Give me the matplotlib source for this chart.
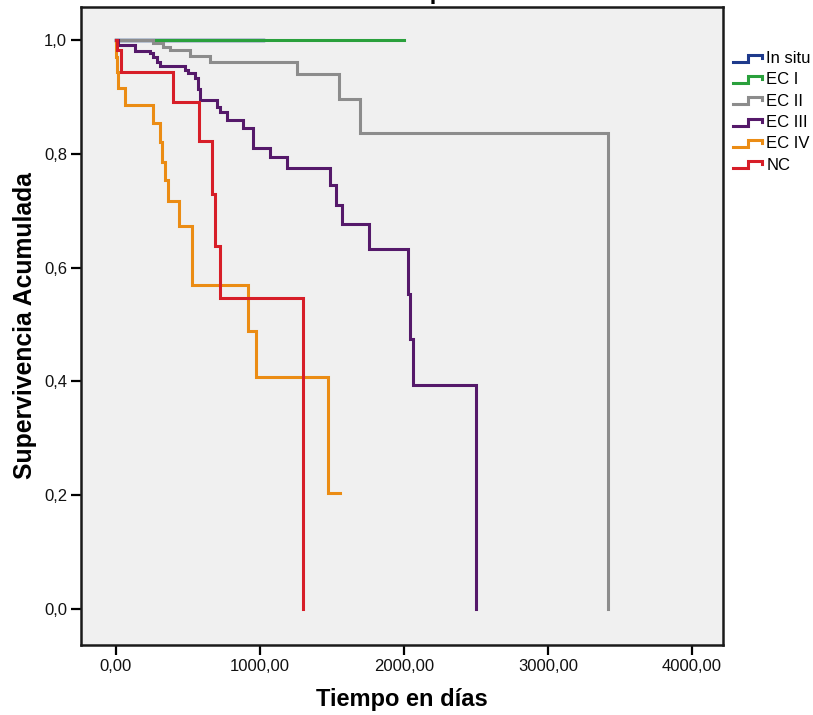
import matplotlib
matplotlib.use("Agg")
import matplotlib.pyplot as plt
from matplotlib import font_manager
from matplotlib.legend_handler import HandlerBase
from matplotlib.lines import Line2D
from matplotlib.ticker import FixedLocator, FuncFormatter

# ---- data: Kaplan-Meier step curves per stage (time in days, cumulative survival)
groups = ["In situ", "EC I", "EC II", "EC III", "EC IV", "NC"]
colors = ["#1E3A8C", "#2AA03C", "#8C8C8C", "#55196A", "#EB8C14", "#D71E28"]

insitu_t = [0, 1021]
insitu_s = [1.0, 1.0]

eci_t = [0, 2000]
eci_s = [1.0, 1.0]

ecii_t = [0, 257, 326, 375, 514, 653, 1257, 1549, 1694, 3417]
ecii_s = [1.0, 0.994, 0.988, 0.982, 0.972, 0.961, 0.941, 0.896, 0.837, 0.0]

eciii_t = [0, 14, 132, 236, 257, 285, 306, 479, 500, 549, 569, 583, 701, 722,
           771, 882, 951, 1069, 1188, 1486, 1528, 1569, 1757, 2028, 2042, 2063, 2500]
eciii_s = [1.0, 0.991, 0.981, 0.977, 0.970, 0.961, 0.954, 0.947, 0.942, 0.933,
           0.914, 0.895, 0.882, 0.873, 0.859, 0.845, 0.810, 0.794, 0.775, 0.745,
           0.710, 0.677, 0.633, 0.554, 0.475, 0.394, 0.0]

eciv_t = [0, 3, 10, 16, 63, 257, 306, 316, 340, 361, 438, 528, 917, 972, 1472, 1556]
eciv_s = [1.0, 0.971, 0.943, 0.916, 0.886, 0.854, 0.821, 0.786, 0.754, 0.717,
          0.673, 0.569, 0.489, 0.408, 0.204, 0.204]

nc_t = [0, 7, 35, 396, 576, 667, 688, 722, 1299]
nc_s = [1.0, 0.982, 0.943, 0.891, 0.822, 0.729, 0.638, 0.547, 0.0]

curves = [(insitu_t, insitu_s), (eci_t, eci_s), (ecii_t, ecii_s),
          (eciii_t, eciii_s), (eciv_t, eciv_s), (nc_t, nc_s)]

x_ticks = [0, 1000, 2000, 3000, 4000]
y_ticks = [0.0, 0.2, 0.4, 0.6, 0.8, 1.0]

title = "Funciones de supervivencia"
x_label = "Tiempo en días"
y_label = "Supervivencia Acumulada"

# ---- fonts
available = {f.name for f in font_manager.fontManager.ttflist}
if "Liberation Sans Narrow" in available:
    FAMILY = ["Liberation Sans Narrow", "Liberation Sans", "DejaVu Sans"]
    tick_fs, xlab_fs, ylab_fs, legend_fs = 14.5, 20, 21, 14.5
else:
    FAMILY = ["Liberation Sans", "DejaVu Sans"]
    tick_fs, xlab_fs, ylab_fs, legend_fs = 12, 17, 17.8, 12
plt.rcParams["font.family"] = FAMILY


class StepHandler(HandlerBase):
    """Legend key drawn as a small survival step."""

    def create_artists(self, legend, orig_handle, xdescent, ydescent,
                       width, height, fontsize, trans):
        x0 = -xdescent
        y0 = -ydescent
        lo = y0 + 0.12 * height
        hi = y0 + 0.72 * height
        mid = y0 + 0.45 * height
        xs = [x0, x0 + 0.52 * width, x0 + 0.52 * width, x0 + width, x0 + width]
        ys = [lo, lo, hi, hi, mid]
        line = Line2D(xs, ys, color=orig_handle.get_color(),
                      lw=2.2, solid_joinstyle="miter", transform=trans)
        return [line]


W, H = 813, 715
fig = plt.figure(figsize=(W / 100, H / 100), dpi=100)
fig.patch.set_facecolor("white")

left, right, top, bottom = 81, 723, 7, 645
ax = fig.add_axes([left / W, 1 - bottom / H, (right - left) / W, (bottom - top) / H])
ax.set_facecolor("#F0F0F0")

handles = []
for name, color, (t, s) in zip(groups, colors, curves):
    lw = 2.5 if name == "In situ" else 2.2
    h, = ax.step(t, s, where="post", color=color, lw=lw, label=name,
                 solid_joinstyle="miter", zorder=3)
    handles.append(h)

ax.set_xlim(-243, 4215)
ax.set_ylim(-0.063, 1.058)

ax.xaxis.set_major_locator(FixedLocator(x_ticks))
ax.yaxis.set_major_locator(FixedLocator(y_ticks))
ax.xaxis.set_major_formatter(FuncFormatter(lambda v, p: f"{v:.2f}".replace(".", ",")))
ax.yaxis.set_major_formatter(FuncFormatter(lambda v, p: f"{v:.1f}".replace(".", ",")))
ax.tick_params(direction="out", length=7, width=1.6, color="black",
               labelsize=tick_fs, labelcolor="#111111", pad=3)

for sp in ax.spines.values():
    sp.set_linewidth(1.8)
    sp.set_color("#1A1A1A")

ax.set_xlabel(x_label, fontsize=xlab_fs, fontweight="bold", labelpad=10)
ax.set_ylabel(y_label, fontsize=ylab_fs, fontweight="bold", labelpad=5)

# Chart title sits at the very top edge of the canvas
fig.text(401 / W, 1.0 + 1.0 / H, title, ha="center", va="baseline",
         fontsize=xlab_fs, fontweight="bold")

fig.legend(handles=handles, labels=groups, loc="upper left",
           bbox_to_anchor=(733 / W, 1 - 51 / H), frameon=False,
           fontsize=legend_fs, handler_map={Line2D: StepHandler()},
           handlelength=1.75, handleheight=0.7, handletextpad=0.25,
           labelspacing=0.38, borderpad=0.0, borderaxespad=0.0)

fig.savefig("out.png", dpi=100)
